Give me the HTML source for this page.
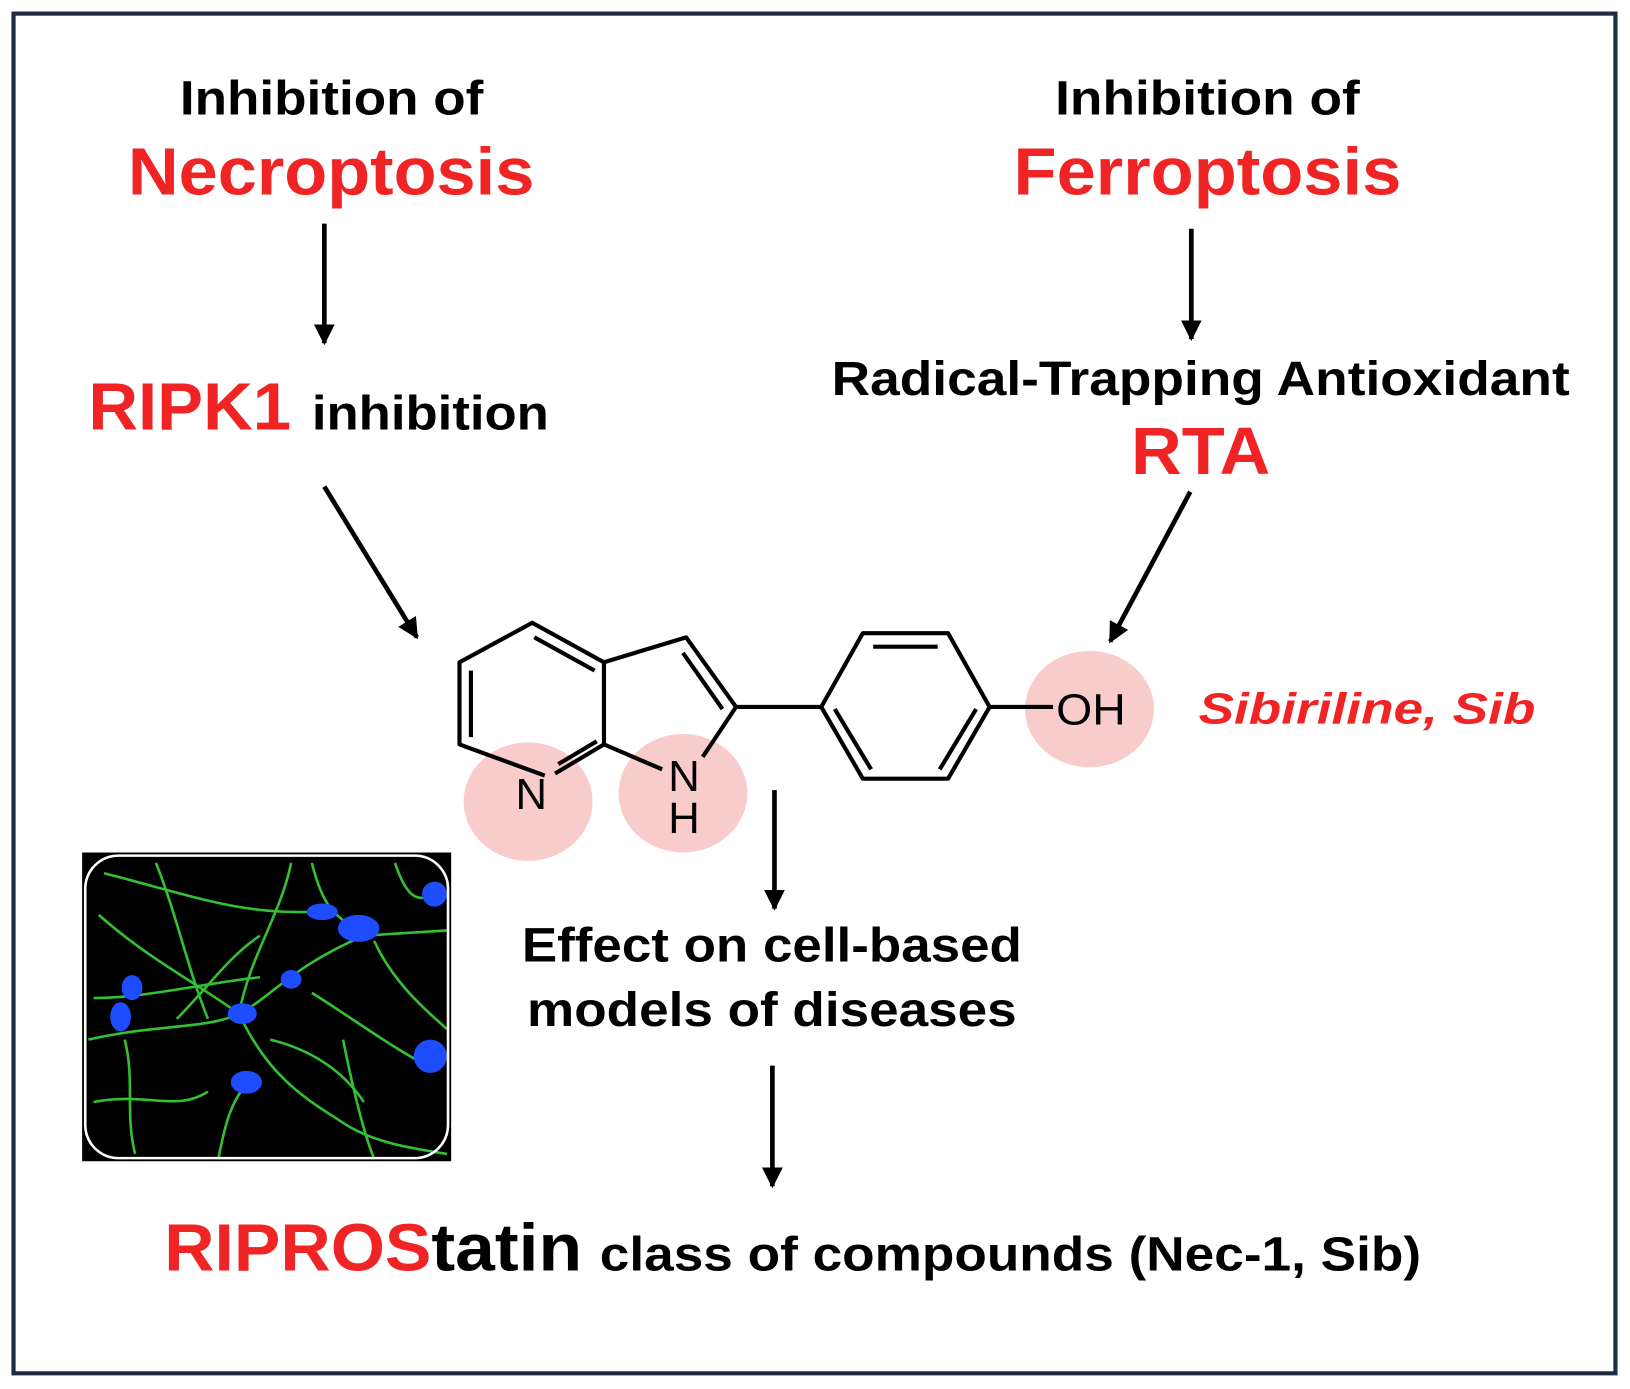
<!DOCTYPE html>
<html><head><meta charset="utf-8"><style>html,body{margin:0;padding:0;background:#fff}svg{display:block}</style></head>
<body>
<svg width="1630" height="1389" viewBox="0 0 1568 1336" xmlns="http://www.w3.org/2000/svg" font-family="Liberation Sans, sans-serif" font-weight="bold">
<defs>
<marker id="ah2" viewBox="0 0 10 10" markerWidth="20" markerHeight="20" refX="9" refY="5" orient="auto" markerUnits="userSpaceOnUse">
<path d="M0,0 L10,5 L0,10 z" fill="#000"/></marker>
</defs>
<rect x="13" y="13" width="1541" height="1308" fill="#fff" stroke="#1f2a44" stroke-width="4"/>

<text x="173" y="110" font-size="46" textLength="292" lengthAdjust="spacingAndGlyphs">Inhibition of</text>
<text x="123" y="187" font-size="64" fill="#f02424" textLength="391" lengthAdjust="spacingAndGlyphs">Necroptosis</text>
<text x="1015" y="110" font-size="46" textLength="293" lengthAdjust="spacingAndGlyphs">Inhibition of</text>
<text x="975" y="187" font-size="64" fill="#f02424" textLength="373" lengthAdjust="spacingAndGlyphs">Ferroptosis</text>

<g stroke="#000" stroke-width="4.5">
<line x1="312" y1="215" x2="312" y2="330" marker-end="url(#ah2)"/>
<line x1="1146" y1="220" x2="1146" y2="326" marker-end="url(#ah2)"/>
<line x1="312" y1="468" x2="401" y2="613" marker-end="url(#ah2)"/>
<line x1="1145" y1="473" x2="1068" y2="617" marker-end="url(#ah2)"/>
<line x1="745" y1="760" x2="745" y2="874" marker-end="url(#ah2)"/>
<line x1="743" y1="1025" x2="743" y2="1141" marker-end="url(#ah2)"/>
</g>

<text x="85" y="413" font-size="64" fill="#f02424" textLength="195" lengthAdjust="spacingAndGlyphs">RIPK1</text>
<text x="300" y="413" font-size="46" textLength="228" lengthAdjust="spacingAndGlyphs">inhibition</text>
<text x="800" y="380" font-size="46" textLength="710" lengthAdjust="spacingAndGlyphs">Radical-Trapping Antioxidant</text>
<text x="1088" y="456" font-size="64" fill="#f02424" textLength="134" lengthAdjust="spacingAndGlyphs">RTA</text>

<ellipse cx="508" cy="771" rx="62" ry="57" fill="#f9cccc"/>
<ellipse cx="657" cy="763" rx="62" ry="57" fill="#f9cccc"/>
<ellipse cx="1048" cy="682" rx="62" ry="56" fill="#f9cccc"/>

<g stroke="#000" stroke-width="4" fill="none" stroke-linejoin="round">
<polyline points="524,746 442,716 442,637 512,599 581,637 581,716 534,744"/>
<line x1="453" y1="645" x2="453" y2="709"/>
<line x1="514" y1="613" x2="572" y2="645"/>
<line x1="537" y1="735" x2="574" y2="713"/>
<polyline points="581,637 660,613 708,680 676,728"/>
<line x1="581" y1="716" x2="637" y2="740"/>
<line x1="657" y1="628" x2="695" y2="682"/>
<line x1="708" y1="680" x2="790" y2="680"/>
<polygon points="790,680 830,609 912,609 952,680 912,749 830,749"/>
<line x1="840" y1="622" x2="902" y2="622"/>
<line x1="803" y1="682" x2="838" y2="740"/>
<line x1="939" y1="682" x2="904" y2="740"/>
<line x1="952" y1="680" x2="1013" y2="680"/>
</g>
<g font-weight="normal" font-size="42">
<text x="511" y="778" text-anchor="middle">N</text>
<text x="658" y="761" text-anchor="middle">N</text>
<text x="658" y="801" text-anchor="middle">H</text>
<text x="1016" y="697" textLength="67" lengthAdjust="spacingAndGlyphs">OH</text>
</g>
<text x="1153" y="696" font-size="42" font-style="italic" fill="#f02424" textLength="324" lengthAdjust="spacingAndGlyphs">Sibiriline, Sib</text>

<text x="502" y="925" font-size="46" textLength="481" lengthAdjust="spacingAndGlyphs">Effect on cell-based</text>
<text x="507" y="987" font-size="46" textLength="471" lengthAdjust="spacingAndGlyphs">models of diseases</text>

<text x="158" y="1222" font-size="64" fill="#f02424" textLength="257" lengthAdjust="spacingAndGlyphs">RIPROS</text>
<text x="415" y="1222" font-size="64" textLength="145" lengthAdjust="spacingAndGlyphs">tatin</text>
<text x="577" y="1222" font-size="46" textLength="790" lengthAdjust="spacingAndGlyphs">class of compounds (Nec-1, Sib)</text>

<rect x="79" y="820" width="355" height="297" fill="#000"/>
<g stroke="#33c033" stroke-width="2.5" fill="none">
<path d="M85,1000 C150,985 200,990 230,975 C260,960 280,930 350,900 L430,895"/>
<path d="M230,975 C260,1040 300,1060 330,1080 C360,1100 400,1105 430,1110"/>
<path d="M120,1000 C130,1040 120,1070 130,1110"/>
<path d="M240,1040 C220,1060 215,1090 210,1115"/>
<path d="M300,955 C340,980 380,1010 420,1030"/>
<path d="M95,880 C140,920 180,940 230,975"/>
<path d="M150,830 C170,880 180,930 200,980"/>
<path d="M300,830 C310,870 320,880 345,895"/>
<path d="M250,900 C220,920 200,950 170,980"/>
<path d="M360,905 C380,950 420,980 430,990"/>
<path d="M90,960 C140,960 200,945 250,940"/>
<path d="M280,830 C270,880 240,920 230,975"/>
<path d="M330,1000 C340,1050 350,1090 360,1115"/>
<path d="M100,840 C180,860 230,880 300,877"/>
<path d="M380,830 C390,860 400,870 418,860"/>
<path d="M260,1000 C300,1010 330,1030 350,1060"/>
<path d="M90,1060 C140,1050 170,1070 200,1050"/>
</g>
<g fill="#1e4cff">
<ellipse cx="310" cy="877" rx="15" ry="8"/>
<ellipse cx="345" cy="893" rx="20" ry="13"/>
<ellipse cx="418" cy="860" rx="12" ry="12"/>
<ellipse cx="127" cy="950" rx="10" ry="12"/>
<ellipse cx="116" cy="978" rx="10" ry="14"/>
<ellipse cx="280" cy="942" rx="10" ry="9"/>
<ellipse cx="233" cy="975" rx="14" ry="10"/>
<ellipse cx="237" cy="1041" rx="15" ry="11"/>
<ellipse cx="414" cy="1016" rx="16" ry="16"/>
</g>
<rect x="82" y="823" width="349" height="291" rx="32" fill="none" stroke="#fff" stroke-width="2.5"/>
</svg>
</body></html>
